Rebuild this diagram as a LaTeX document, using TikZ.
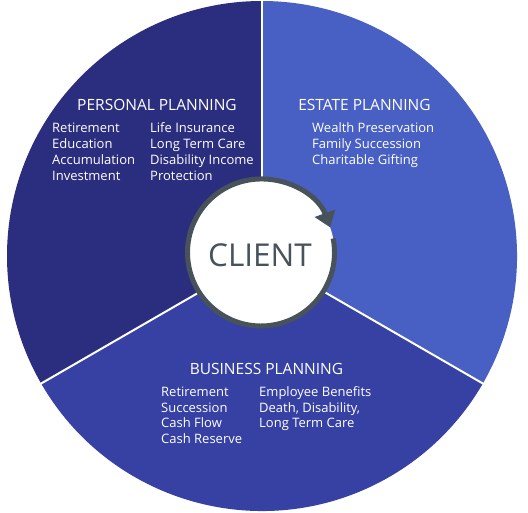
\documentclass[tikz,border=0pt]{standalone}
\usepackage{fontspec}
\setmainfont{Open Sans}
\usetikzlibrary{arrows.meta}
\definecolor{personal}{HTML}{2B2E7E}
\definecolor{estate}{HTML}{4860C3}
\definecolor{business}{HTML}{3641A3}
\definecolor{ringgrey}{HTML}{48525B}
\begin{document}
\begin{tikzpicture}[x=1pt,y=1pt,
  head/.style={text=white,font=\fontsize{15.5}{18}\selectfont,anchor=base,inner sep=0},
  item/.style={text=white,font=\fontsize{13}{16}\selectfont,anchor=base west,inner sep=0},
  gap/.style={white,line width=2pt},
  ring/.style={ringgrey,line width=5pt}]
\useasboundingbox (0,0) rectangle (528,512);
\coordinate (C) at (262,256);
% sectors
\fill[estate] (C) -- ++(-30:255) arc[start angle=-30,end angle=90,radius=255] -- cycle;
\fill[personal] (C) -- ++(90:255) arc[start angle=90,end angle=210,radius=255] -- cycle;
\fill[business] (C) -- ++(210:255) arc[start angle=210,end angle=330,radius=255] -- cycle;
\draw[gap] (C) -- ++(90:258);
\draw[gap] (C) -- ++(210:258);
\draw[gap] (C) -- ++(330:258);
% headings
\node[head] (ph) at (157,401) {PERSONAL PLANNING};
\node[head] (eh) at (364.5,401) {ESTATE PLANNING};
\node[head] (bh) at (266.5,137) {BUSINESS PLANNING};
% personal items
\node[item] (p1) at (52,379) {Retirement};
\node[item] (p2) at (52,363) {Education};
\node[item] (p3) at (52,347) {Accumulation};
\node[item] (p4) at (52,331) {Investment};
\node[item] (p5) at (150,379) {Life Insurance};
\node[item] (p6) at (150,363) {Long Term Care};
\node[item] (p7) at (150,347) {Disability Income};
\node[item] (p8) at (150,331) {Protection};
% estate items
\node[item] (e1) at (312,379) {Wealth Preservation};
\node[item] (e2) at (312,363) {Family Succession};
\node[item] (e3) at (312,347) {Charitable Gifting};
% business items
\node[item] (b1) at (161,115) {Retirement};
\node[item] (b2) at (161,99.5) {Succession};
\node[item] (b3) at (161,84) {Cash Flow};
\node[item] (b4) at (161,68.5) {Cash Reserve};
\node[item] (b5) at (259,115) {Employee Benefits};
\node[item] (b6) at (259,99.5) {Death, Disability,};
\node[item] (b7) at (259,84) {Long Term Care};
% client
\coordinate (K) at (261,259.5);
\fill[white] (K) circle (73.5);
\draw[ring,-{Triangle[width=21pt,length=15pt]}] ([shift={(11:73.5)}]K) arc[start angle=11,end angle=-340,radius=73.5];
\node[text=ringgrey,font=\fontsize{31.5}{36}\selectfont,inner sep=0] (client) at (260,257) {CLIENT};
\end{tikzpicture}
\end{document}
